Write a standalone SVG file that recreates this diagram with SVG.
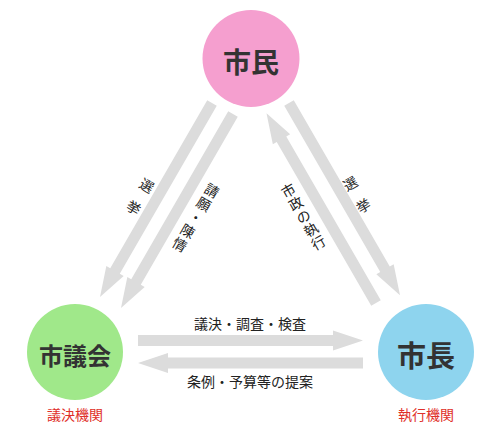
<svg xmlns="http://www.w3.org/2000/svg" width="500" height="433" viewBox="0 0 500 433">
<style>
.arr{fill:#dcdcdc}
.node{font-family:"Noto Sans CJK JP","Noto Sans",sans-serif;font-weight:bold;fill:#333;text-anchor:middle;dominant-baseline:central}
.lbl{font-family:"Noto Sans CJK JP","Noto Sans",sans-serif;font-size:14px;fill:#222;text-anchor:middle;dominant-baseline:central}
.vt{font-family:"Noto Sans CJK JP","Noto Sans",sans-serif;font-size:14px;fill:#222;text-anchor:middle;dominant-baseline:central}
.red{font-family:"Noto Sans CJK JP","Noto Sans",sans-serif;font-size:14px;fill:#e0302a;text-anchor:middle;dominant-baseline:central}
</style>
<rect width="500" height="433" fill="#fff"/>
<g id="connectors">
  <path class="arr" transform="translate(138,340.5)" d="M0,-5.5 H195 V-10 L225,0 L195,10 V5.5 H0 Z"/>
  <path class="arr" transform="translate(363,363) rotate(180)" d="M0,-5.5 H195 V-10 L225,0 L195,10 V5.5 H0 Z"/>
  <path class="arr" transform="translate(212,103) rotate(120)" d="M0,-5.5 H194 V-10 L224,0 L194,10 V5.5 H0 Z"/>
  <path class="arr" transform="translate(233,114) rotate(120)" d="M0,-5.5 H194 V-10 L224,0 L194,10 V5.5 H0 Z"/>
  <path class="arr" transform="translate(376,303) rotate(-120)" d="M0,-5.5 H189 V-10 L219,0 L189,10 V5.5 H0 Z"/>
  <path class="arr" transform="translate(289,103) rotate(60)" d="M0,-5.5 H192 V-10 L222,0 L192,10 V5.5 H0 Z"/>
  <text class="lbl" x="250" y="323">議決・調査・検査</text>
  <text class="lbl" x="250" y="381">条例・予算等の提案</text>
  <text class="vt" x="147" y="185" transform="rotate(30 147 185)">選</text>
  <text class="vt" x="134" y="207" transform="rotate(30 134 207)">挙</text>
  <text class="vt" x="212" y="190" transform="rotate(30 212 190)">請</text>
  <text class="vt" x="204" y="203.5" transform="rotate(30 204 203.5)">願</text>
  <text class="vt" x="196" y="217" transform="rotate(30 196 217)">・</text>
  <text class="vt" x="188" y="230.5" transform="rotate(30 188 230.5)">陳</text>
  <text class="vt" x="180" y="244" transform="rotate(30 180 244)">情</text>
  <text class="vt" x="288" y="190" transform="rotate(-30 288 190)">市</text>
  <text class="vt" x="295.5" y="203" transform="rotate(-30 295.5 203)">政</text>
  <text class="vt" x="303" y="216" transform="rotate(-30 303 216)">の</text>
  <text class="vt" x="310.5" y="229" transform="rotate(-30 310.5 229)">執</text>
  <text class="vt" x="318" y="242" transform="rotate(-30 318 242)">行</text>
  <text class="vt" x="350" y="183" transform="rotate(-30 350 183)">選</text>
  <text class="vt" x="363" y="205" transform="rotate(-30 363 205)">挙</text>
</g>
<g id="shimin">
  <circle cx="251" cy="58.5" r="48.5" fill="#f59fcf"/>
  <text class="node" x="251" y="61" font-size="28">市民</text>
</g>
<g id="shigikai">
  <circle cx="75" cy="352" r="48" fill="#a0e88a"/>
  <text class="node" x="75" y="354" font-size="24">市議会</text>
  <text class="red" x="75" y="414">議決機関</text>
</g>
<g id="shicho">
  <circle cx="426" cy="352" r="48" fill="#8ed4ee"/>
  <text class="node" x="426" y="354" font-size="29">市長</text>
  <text class="red" x="426" y="414">執行機関</text>
</g>
</svg>
